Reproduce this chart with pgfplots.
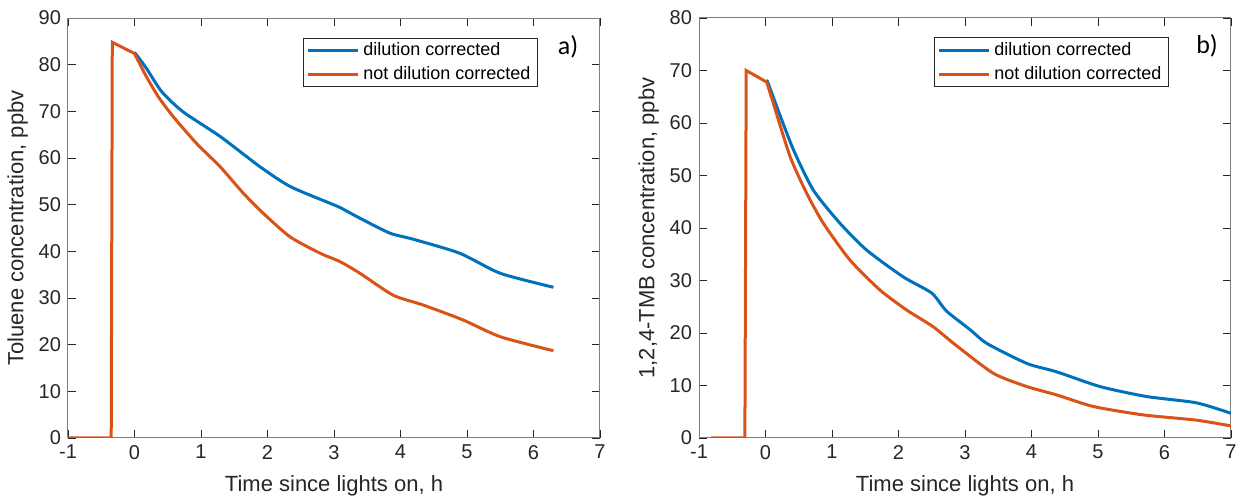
\documentclass[border=0pt]{standalone}
\usepackage{fontspec}
\setmainfont{Liberation Sans}
\newfontfamily\calibri{Carlito}
\usepackage{pgfplots}
\pgfplotsset{compat=1.18}
\definecolor{mblue}{HTML}{0072BD}
\definecolor{morange}{HTML}{D95319}
\definecolor{mgray}{HTML}{262626}

\pgfplotsset{mstyle/.style={
  scale only axis, width=266pt, height=210pt,
  xmin=-1, xmax=7, xtick={-1,0,...,7},
  axis line style={mgray!60, line width=0.5pt},
  tick align=inside, major tick length=4pt,
  tick style={mgray, line width=0.4pt},
  ticklabel style={font=\fontsize{10}{12}\selectfont, text=mgray},
  /pgf/number format/assume math mode=true,
  label style={font=\fontsize{11}{13}\selectfont, text=mgray},
  xlabel={Time since lights on, h},
  xlabel style={yshift=-1.5pt},
  ylabel shift=-1.5pt,
  legend style={at={(1,1)}, anchor=north east, xshift=-31pt, yshift=-9.75pt,
    font=\fontsize{9}{11}\selectfont, draw=mgray, line width=0.5pt,
    inner xsep=1.5pt, inner ysep=0pt, row sep=0.2pt, cells={anchor=west}},
  legend image code/.code={\draw[##1, line width=1.5pt] (0pt,0pt) -- (25pt,0pt);},
}}

\begin{document}
\begin{tikzpicture}
\begin{axis}[mstyle, name=a, at={(0,0)}, anchor=south west,
  ymin=0, ymax=90, ytick={0,10,...,90},
  ylabel={Toluene concentration, ppbv}]
% decay part (smooth), then the step before lights on
\addplot[mblue, line width=1.5pt, smooth, tension=0.4] coordinates {
(0.0,82.6) (0.03,82.1) (0.18,79.2) (0.41,74.2) (0.73,69.9) (1.29,64.6) (1.89,58.1)
(2.34,53.9) (2.94,50.3) (3.09,49.4) (3.39,47.1) (3.84,43.9) (4.19,42.6) (4.89,39.6)
(5.5,35.3) (6.30,32.3)};
\addlegendentry{dilution corrected}
\addplot[morange, line width=1.5pt, smooth, tension=0.4] coordinates {
(0.0,82.4) (0.18,77.4) (0.36,73.1) (0.58,68.9) (0.935,63.1) (1.29,58.1) (1.64,52.4)
(1.94,48.1) (2.34,43.1) (2.79,39.6) (3.09,37.8) (3.39,35.3) (3.89,30.6) (4.34,28.5)
(4.94,25.3) (5.5,21.7) (6.30,18.7)};
\addlegendentry{not dilution corrected}
\addplot[morange, line width=1.5pt, forget plot] coordinates {
(-1,0) (-0.35,0) (-0.334,84.8) (0.0,82.4)};
\node[font=\calibri\fontsize{13}{15}\selectfont, text=black] at (axis cs:6.52,83.8) {a)};
\end{axis}
\begin{axis}[mstyle, name=b, at={(315.5pt,0)}, anchor=south west,
  ymin=0, ymax=80, ytick={0,10,...,80},
  ylabel={1,2,4-TMB concentration, ppbv}]
\addplot[mblue, line width=1.5pt, smooth, tension=0.4] coordinates {
(0.02,68.0) (0.04,67.6) (0.17,63.1) (0.42,54.9) (0.72,47.2) (1.12,40.9) (1.52,35.8)
(2.07,30.7) (2.50,27.6) (2.72,24.2) (3.08,20.6) (3.33,18.0) (3.93,14.2)
(4.38,12.6) (5.03,9.8) (5.73,7.9) (6.48,6.7) (7.0,4.7)};
\addlegendentry{dilution corrected}
\addplot[morange, line width=1.5pt, smooth, tension=0.4] coordinates {
(0.018,67.8) (0.117,63.8) (0.37,53.6) (0.62,46.6) (0.87,40.9) (1.27,33.9) (1.72,28.2)
(2.12,24.4) (2.52,21.2) (2.87,17.6) (3.43,12.3) (3.93,9.8) (4.38,8.2)
(4.93,6.0) (5.68,4.4) (6.48,3.4) (7.0,2.3)};
\addlegendentry{not dilution corrected}
\addplot[morange, line width=1.5pt, forget plot] coordinates {
(-0.82,0) (-0.31,0) (-0.29,70.0) (0.018,67.8)};
\node[font=\calibri\fontsize{13}{15}\selectfont, text=black] at (axis cs:6.64,74.7) {b)};
\end{axis}
\pgfresetboundingbox
\path[use as bounding box] (-34pt,-30pt) rectangle (585pt,219pt);
\end{tikzpicture}
\end{document}
